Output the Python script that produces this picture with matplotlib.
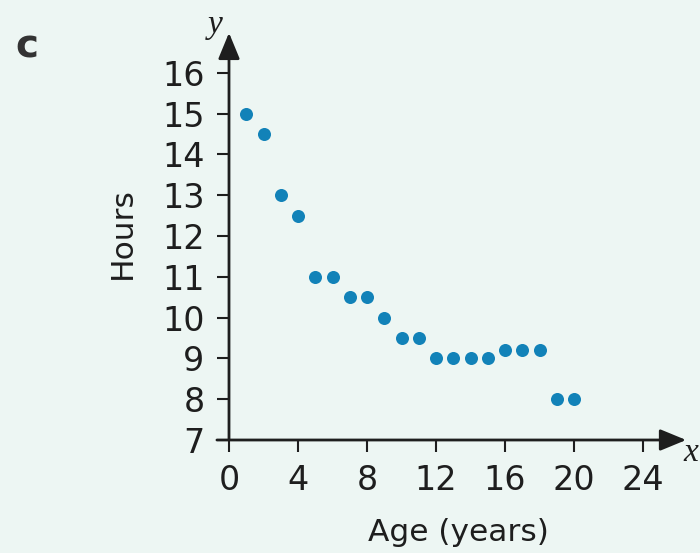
import matplotlib
matplotlib.use("Agg")
import matplotlib.pyplot as plt

# ---- data ----
ages = [1, 2, 3, 4, 5, 6, 7, 8, 9, 10, 11, 12, 13, 14, 15, 16, 17, 18, 19, 20]
hours = [15, 14.5, 13, 12.5, 11, 11, 10.5, 10.5, 10, 9.5, 9.5,
         9, 9, 9, 9, 9.2, 9.2, 9.2, 8, 8]
x_ticks = [0, 4, 8, 12, 16, 20, 24]
y_ticks = [7, 8, 9, 10, 11, 12, 13, 14, 15, 16]
x_label = "Age (years)"
y_label = "Hours"
panel_label = "c"

# ---- style ----
BG = "#edf6f3"
DOT = "#1282b8"
INK = "#1e1e1e"
FONT = "DejaVu Sans"

W, H = 700, 553
fig = plt.figure(figsize=(W / 100, H / 100), dpi=100, facecolor=BG)

# pixel mapping of the reference
X0PX, XSCALE = 229, 17.25
Y7PX, YSCALE = 440, 40.8
xlim = (-1.0, 27.0)
ylim = (6.5, 17.3)
left_px = X0PX + XSCALE * xlim[0]
right_px = X0PX + XSCALE * xlim[1]
top_px = Y7PX - YSCALE * (ylim[1] - 7)
bot_px = Y7PX - YSCALE * (ylim[0] - 7)
ax = fig.add_axes([left_px / W, 1 - bot_px / H,
                   (right_px - left_px) / W, (bot_px - top_px) / H])
ax.set_facecolor(BG)
ax.set_xlim(*xlim)
ax.set_ylim(*ylim)

for s in ("top", "right"):
    ax.spines[s].set_visible(False)
ax.spines["bottom"].set_position(("data", 7))
ax.spines["left"].set_position(("data", 0))
ax.spines["bottom"].set_color("none")
ax.spines["left"].set_color("none")

ax.set_xticks(x_ticks)
ax.set_xticklabels([str(v) for v in x_ticks])
ax.set_yticks(y_ticks)
ax.set_yticklabels([str(v) for v in y_ticks])
ax.tick_params(axis="x", direction="out", length=8.6, width=1.5, color=INK,
               labelsize=24, pad=9, labelcolor=INK)
ax.tick_params(axis="y", direction="out", length=8.6, width=1.5, color=INK,
               labelsize=24, pad=9, labelcolor=INK)
ax.yaxis.get_major_ticks()[0].tick1line.set_visible(False)
for lab in ax.get_xticklabels() + ax.get_yticklabels():
    lab.set_family(FONT)

# axes with arrowheads
arrow_kw = dict(arrowstyle="-|>,head_length=0.8,head_width=0.33", lw=2,
                color=INK, mutation_scale=20, shrinkA=0, shrinkB=0)
ax.annotate("", xy=(26.5, 7), xytext=(-0.7, 7), arrowprops=arrow_kw,
            annotation_clip=False)
ax.annotate("", xy=(0, 16.98), xytext=(0, 7), arrowprops=arrow_kw,
            annotation_clip=False)

ax.text(26.75, 6.68, "x", family="Liberation Serif", style="italic",
        size=24, ha="center", va="center", color=INK, clip_on=False)
ax.text(-0.81, 17.17, "y", family="Liberation Serif", style="italic",
        size=24, ha="center", va="center", color=INK, clip_on=False)

ax.scatter(ages, hours, s=88, color=DOT, linewidths=0, zorder=3, clip_on=False)

fig.text(458 / W, 1 - 541 / H, x_label, family=FONT, size=22.5, color=INK,
         ha="center", va="baseline")
fig.text(122 / W, 1 - 233 / H, y_label, family=FONT, size=22.5, color=INK,
         ha="center", va="center", rotation=90)
fig.text(27 / W, 1 - 47 / H, panel_label, family=FONT, size=28,
         weight="bold", color="#333333", ha="center", va="center")

fig.savefig("out.png", dpi=100, facecolor=BG)
